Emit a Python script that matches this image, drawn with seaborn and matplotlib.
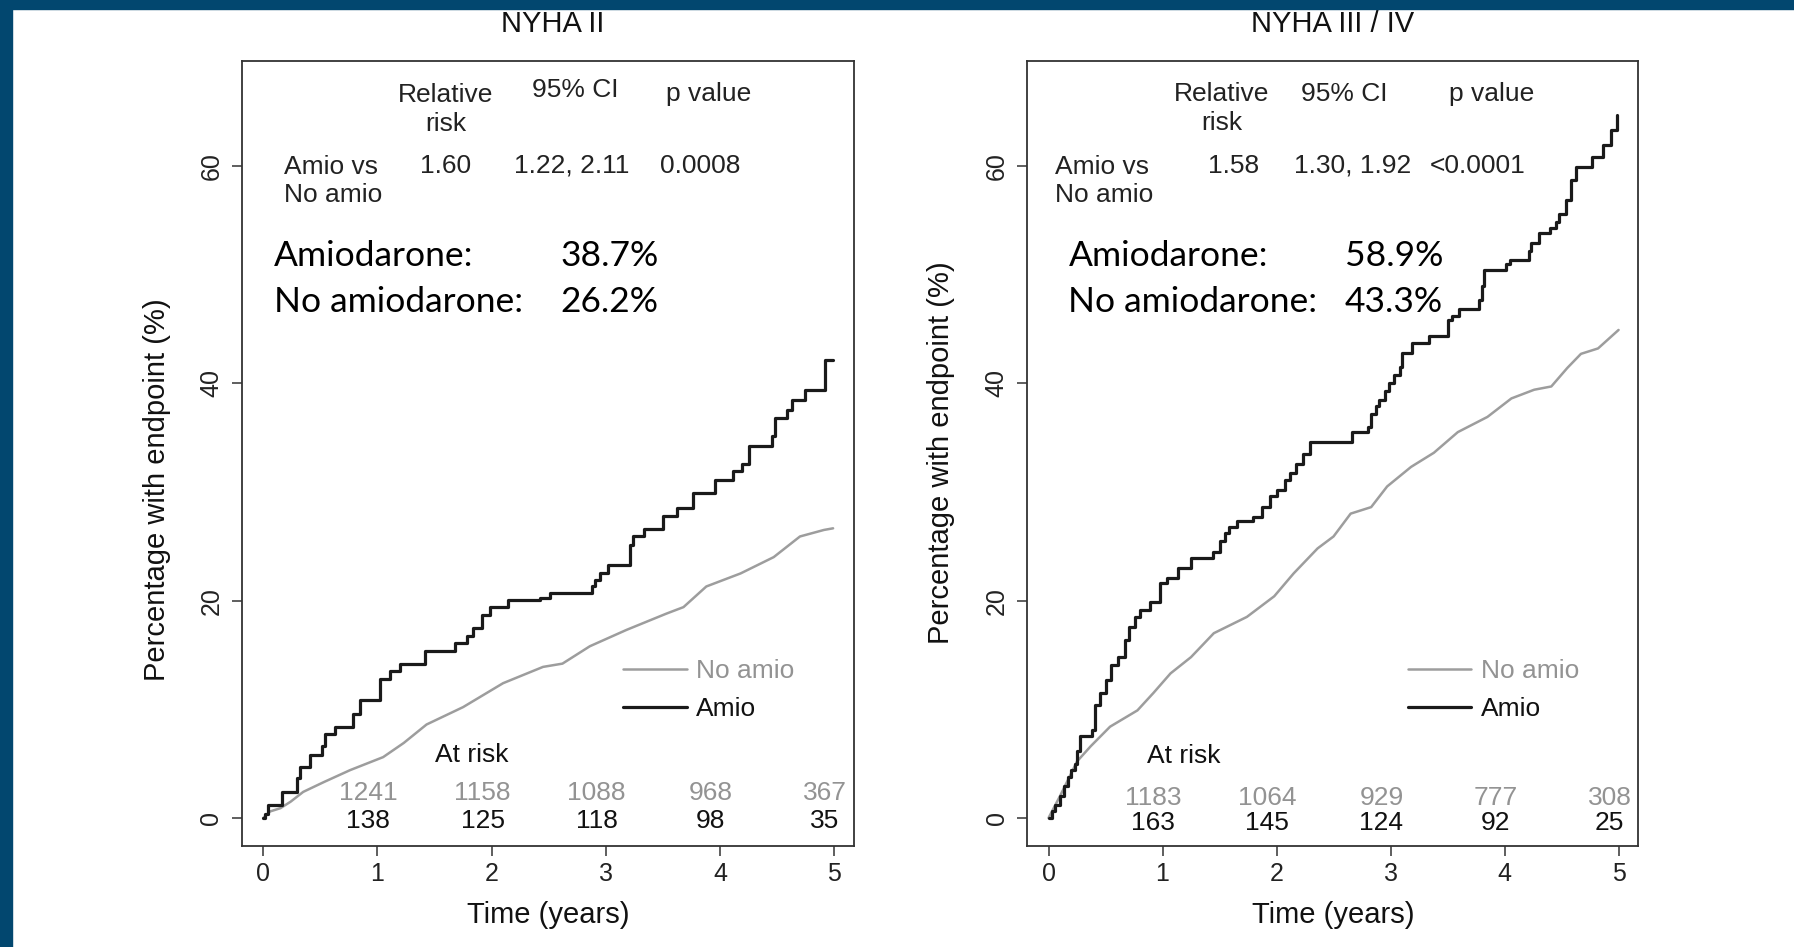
import matplotlib
matplotlib.use("Agg")
import matplotlib.pyplot as plt
import seaborn as sns
from matplotlib.patches import Rectangle

# ---------------- data ----------------
panel_titles = ["NYHA II", "NYHA III / IV"]
x_ticks = [0, 1, 2, 3, 4, 5]
y_ticks = [0, 20, 40, 60]

# NYHA II - Amiodarone (Kaplan-Meier steps: time, cumulative %)
nyha2_amio_t = [0.00, 0.016, 0.045, 0.162, 0.293, 0.322, 0.41, 0.512, 0.54, 0.63, 0.79, 0.848,
                1.023, 1.11, 1.198, 1.417, 1.68, 1.78, 1.84, 1.913, 1.986, 2.146, 2.42, 2.51,
                2.876, 2.906, 2.95, 3.02, 3.212, 3.24, 3.33, 3.504, 3.62, 3.767, 3.957, 4.117,
                4.19, 4.25, 4.452, 4.48, 4.584, 4.628, 4.745, 4.92, 4.99]
nyha2_amio_y = [0.0, 0.4, 1.2, 2.4, 3.65, 4.7, 5.8, 6.6, 7.7, 8.4, 9.6, 10.9,
                12.8, 13.55, 14.2, 15.4, 16.1, 16.75, 17.45, 18.7, 19.4, 20.05, 20.2, 20.7,
                21.3, 21.9, 22.5, 23.3, 25.1, 25.9, 26.6, 27.8, 28.5, 29.9, 31.1, 31.9,
                32.6, 34.2, 35.1, 36.8, 37.5, 38.5, 39.4, 42.1, 42.1]

# NYHA II - No amiodarone
nyha2_noamio_t = [0.0, 0.06, 0.15, 0.24, 0.35, 0.53, 0.76, 1.05, 1.23, 1.43, 1.75, 2.10, 2.45,
                  2.62, 2.86, 3.18, 3.53, 3.68, 3.88, 4.18, 4.47, 4.70, 4.91, 4.99]
nyha2_noamio_y = [0.0, 0.6, 0.9, 1.5, 2.4, 3.3, 4.4, 5.6, 6.9, 8.6, 10.2, 12.4, 13.9,
                  14.2, 15.8, 17.3, 18.8, 19.4, 21.3, 22.5, 24.0, 25.9, 26.5, 26.65]

# NYHA III/IV - Amiodarone
nyha34_amio_t = [0.00, 0.03, 0.06, 0.10, 0.14, 0.17, 0.20, 0.23, 0.25, 0.28, 0.38, 0.41,
                 0.45, 0.50, 0.55, 0.61, 0.67, 0.71, 0.76, 0.80, 0.89, 0.98, 1.04, 1.14,
                 1.25, 1.44, 1.50, 1.55, 1.58, 1.65, 1.79, 1.87, 1.94, 2.00, 2.07, 2.12,
                 2.17, 2.23, 2.29, 2.66, 2.80, 2.83, 2.87, 2.90, 2.95, 2.99, 3.03, 3.08,
                 3.10, 3.19, 3.34, 3.50, 3.54, 3.60, 3.78, 3.80, 3.82, 4.01, 4.05, 4.21,
                 4.23, 4.30, 4.40, 4.45, 4.48, 4.54, 4.58, 4.63, 4.77, 4.86, 4.93, 4.99]
nyha34_amio_y = [0.0, 0.6, 1.2, 2.0, 2.9, 3.8, 4.4, 5.0, 6.2, 7.5, 8.1, 10.4,
                 11.5, 12.7, 14.1, 14.8, 16.4, 17.6, 18.5, 19.1, 19.9, 21.6, 22.1, 23.0,
                 23.9, 24.5, 25.5, 26.2, 26.8, 27.3, 27.7, 28.6, 29.6, 30.2, 31.1, 31.7,
                 32.6, 33.5, 34.6, 35.5, 36.0, 37.2, 37.9, 38.5, 39.3, 40.0, 40.8, 41.5,
                 42.8, 43.7, 44.3, 45.8, 46.2, 46.8, 47.7, 48.9, 50.4, 51.0, 51.3, 52.2,
                 52.9, 53.8, 54.3, 54.8, 55.6, 56.9, 58.7, 59.9, 60.8, 61.9, 63.3, 64.7]

# NYHA III/IV - No amiodarone
nyha34_noamio_t = [0.0, 0.10, 0.18, 0.25, 0.37, 0.54, 0.78, 0.92, 1.07, 1.25, 1.45, 1.74,
                   1.98, 2.15, 2.36, 2.50, 2.65, 2.83, 2.97, 3.18, 3.38, 3.59, 3.85, 4.06,
                   4.26, 4.41, 4.55, 4.67, 4.82, 5.0]
nyha34_noamio_y = [0.0, 2.0, 3.7, 5.2, 6.6, 8.4, 9.9, 11.5, 13.3, 14.8, 17.0, 18.5,
                   20.4, 22.5, 24.8, 25.9, 28.0, 28.6, 30.5, 32.3, 33.6, 35.5, 36.9, 38.6,
                   39.4, 39.7, 41.4, 42.7, 43.2, 44.9]

# numbers at risk
at_risk_times = [1, 2, 3, 4, 5]
nyha2_risk_noamio = [1241, 1158, 1088, 968, 367]
nyha2_risk_amio = [138, 125, 118, 98, 35]
nyha34_risk_noamio = [1183, 1064, 929, 777, 308]
nyha34_risk_amio = [163, 145, 124, 92, 25]

# statistics
stat_headers = ["Relative\nrisk", "95% CI", "p value"]
nyha2_stats = ["1.60", "1.22, 2.11", "0.0008"]
nyha34_stats = ["1.58", "1.30, 1.92", "<0.0001"]
nyha2_rates = ["38.7%", "26.2%"]
nyha34_rates = ["58.9%", "43.3%"]
rate_labels = ["Amiodarone:", "No amiodarone:"]
legend_labels = ["No amio", "Amio"]

# ---------------- style ----------------
sns.set_theme(style="ticks")
plt.rcParams["font.family"] = ["Liberation Sans", "DejaVu Sans"]

W, H = 1794, 947
fig = plt.figure(figsize=(W / 100, H / 100), dpi=100)
fig.patch.set_facecolor("white")

BLUE = "#02476f"
fig.add_artist(Rectangle((0, 0), 12 / W, 1, transform=fig.transFigure, color=BLUE, zorder=10))
fig.add_artist(Rectangle((0, 1 - 9 / H), 1, 9 / H, transform=fig.transFigure, color=BLUE, zorder=10))

GRAY_LINE = "#9d9d9d"
GRAY_TXT = "#939393"
SPINE = "#333333"

axes_px = [(242, 60.6, 612, 785.1), (1027.3, 60.6, 611, 785.1)]

panels = [
    dict(amio_t=nyha2_amio_t, amio_y=nyha2_amio_y, no_t=nyha2_noamio_t, no_y=nyha2_noamio_y,
         risk_no=nyha2_risk_noamio, risk_am=nyha2_risk_amio, stats=nyha2_stats, rates=nyha2_rates,
         hdr_x=[1.60, 2.73, 3.90], hdr_y=[65.2, 67.0, 66.6], val_x=[1.60, 2.70, 3.83],
         row_x=0.18, rate_x=0.09, rate_val_x=2.60, atrisk_x=1.83, atrisk_y=5.8,
         num_y=(2.3, -0.3), ylab=(-0.139, 0.4536), title_x=0.507),
    dict(amio_t=nyha34_amio_t, amio_y=nyha34_amio_y, no_t=nyha34_noamio_t, no_y=nyha34_noamio_y,
         risk_no=nyha34_risk_noamio, risk_am=nyha34_risk_amio, stats=nyha34_stats, rates=nyha34_rates,
         hdr_x=[1.52, 2.59, 3.89], hdr_y=[65.3, 66.6, 66.6], val_x=[1.62, 2.67, 3.76],
         row_x=0.055, rate_x=0.175, rate_val_x=2.60, atrisk_x=1.19, atrisk_y=5.7,
         num_y=(1.8, -0.5), ylab=(-0.142, 0.500), title_x=0.500),
]

for i, p in enumerate(panels):
    l, t, w, h = axes_px[i]
    ax = fig.add_axes([l / W, 1 - (t + h) / H, w / W, h / H])

    sns.lineplot(x=p["no_t"], y=p["no_y"], ax=ax, color=GRAY_LINE, linewidth=1.8,
                 estimator=None, errorbar=None, label=legend_labels[0])
    sns.lineplot(x=p["amio_t"], y=p["amio_y"], ax=ax, color="#1a1a1a", linewidth=2.3,
                 estimator=None, errorbar=None, drawstyle="steps-post", label=legend_labels[1])

    ax.set_xlim(-0.186, 5.173)
    ax.set_ylim(-2.55, 69.68)
    ax.set_xticks(x_ticks)
    ax.set_yticks(y_ticks)
    ax.set_xticklabels([str(v) for v in x_ticks])
    ax.set_yticklabels([str(v) for v in y_ticks])
    ax.tick_params(direction="out", length=7.5, width=1.1, color=SPINE, labelsize=18,
                   labelcolor="#222222", pad=4)
    ax.tick_params(axis="y", pad=6)
    plt.setp(ax.get_yticklabels(), rotation=90, va="center")
    for s in ax.spines.values():
        s.set_visible(True)
        s.set_color(SPINE)
        s.set_linewidth(1.3)

    ax.set_xlabel("Time (years)", fontsize=21, color="#111111")
    ax.xaxis.set_label_coords(0.5, -0.0885)
    ax.xaxis.label.set_va("center")
    ax.set_ylabel("Percentage with endpoint (%)", fontsize=21, color="#111111")
    ax.yaxis.set_label_coords(*p["ylab"])
    ax.yaxis.label.set_va("center")

    ax.text(p["title_x"], 1.0466, panel_titles[i], transform=ax.transAxes, ha="center",
            va="center", fontsize=21, color="#111111")

    # statistics table
    for hx, hy, htxt in zip(p["hdr_x"], p["hdr_y"], stat_headers):
        ax.text(hx, hy, htxt, ha="center", va="center", fontsize=19, color="#222222",
                linespacing=1.25)
    ax.text(p["row_x"], 58.6, "Amio vs\nNo amio", ha="left", va="center", fontsize=19,
            color="#222222", linespacing=1.22)
    for vx, vtxt in zip(p["val_x"], p["stats"]):
        ax.text(vx, 60.0, vtxt, ha="center", va="center", fontsize=19, color="#222222")

    # rates (Calibri-like)
    for ry, lab, val in zip([51.67, 47.47], rate_labels, p["rates"]):
        ax.text(p["rate_x"], ry, lab, ha="left", va="center", fontsize=25.5,
                family=["Lato", "DejaVu Sans"], color="black")
        ax.text(p["rate_val_x"], ry, val, ha="left", va="center", fontsize=25.5,
                family=["Lato", "DejaVu Sans"], color="black")

    # at risk
    ax.text(p["atrisk_x"], p["atrisk_y"], "At risk", ha="center", va="center", fontsize=19,
            color="#111111")
    for tt, nn, na in zip(at_risk_times, p["risk_no"], p["risk_am"]):
        ax.text(tt - 0.08, p["num_y"][0], str(nn), ha="center", va="center", fontsize=19,
                color=GRAY_TXT)
        ax.text(tt - 0.08, p["num_y"][1], str(na), ha="center", va="center", fontsize=19,
                color="#111111")

    handles = ax.get_lines()[:2]
    ax.legend(handles=handles, labels=legend_labels, loc="upper left",
              bbox_to_anchor=(0.623, 0.238), frameon=False, fontsize=19,
              handlelength=2.4, handletextpad=0.35, labelspacing=0.55,
              borderpad=0, borderaxespad=0, labelcolor=[GRAY_TXT, "#111111"])

fig.savefig("out.png", dpi=100, facecolor="white")
